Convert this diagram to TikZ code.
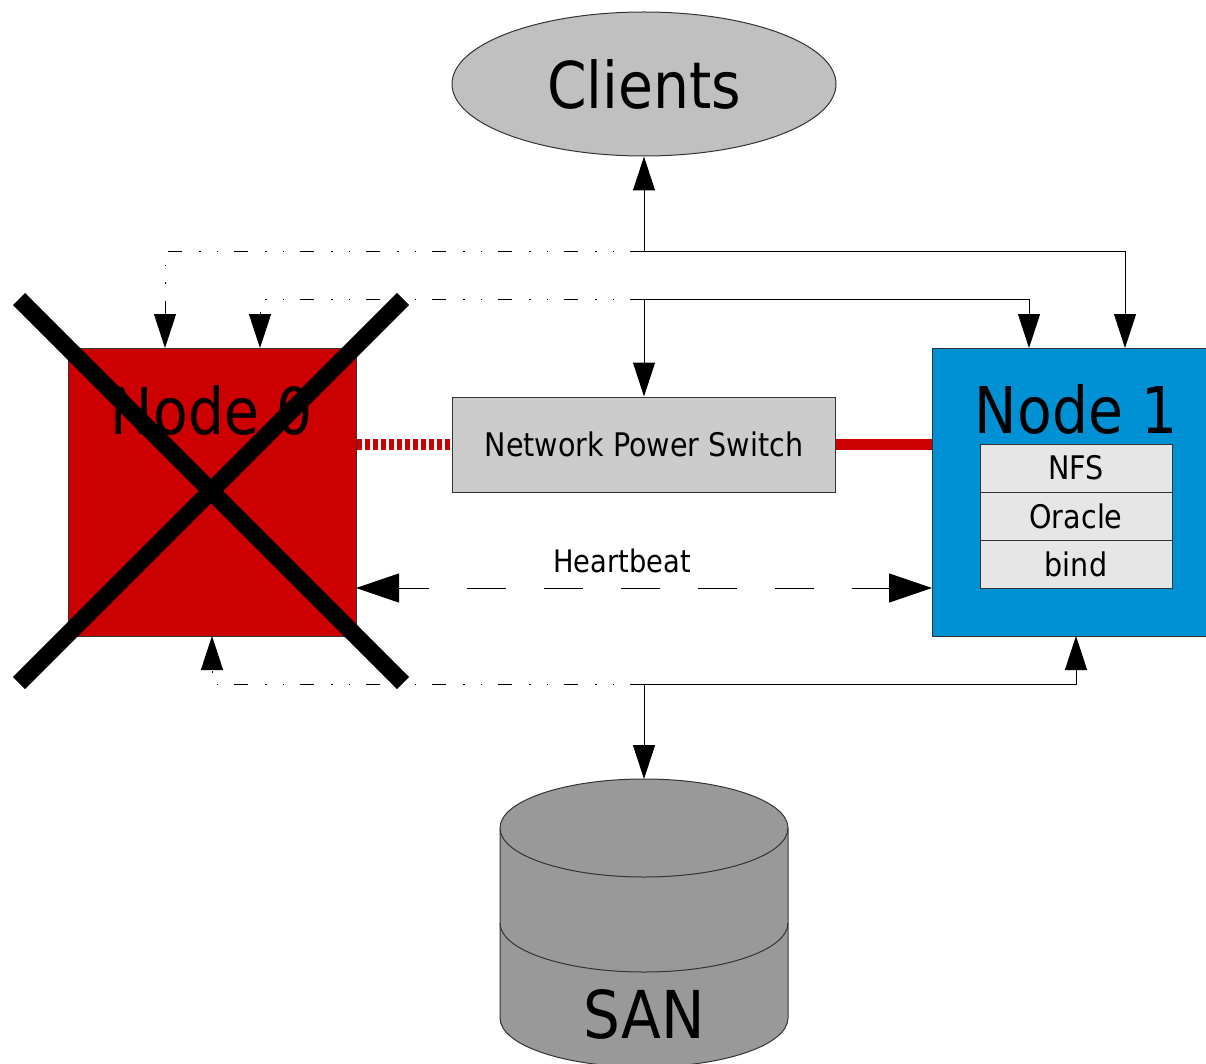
\documentclass[tikz,border=0pt]{standalone}
\usepackage{fontspec}
\setmainfont{DejaVu Sans}[FakeStretch=0.88]
\usetikzlibrary{arrows.meta,shapes.geometric}

\definecolor{clientgray}{HTML}{C0C0C0}
\definecolor{switchgray}{HTML}{CCCCCC}
\definecolor{deadred}{HTML}{CC0000}
\definecolor{liveblue}{HTML}{0091D5}
\definecolor{cellgray}{HTML}{E6E6E6}
\definecolor{sangray}{HTML}{999999}
\definecolor{edgegray}{HTML}{333333}

\begin{document}
\begin{tikzpicture}[x=1pt,y=-1pt,
  outline/.style={draw=edgegray, line width=1pt},
  box/.style={outline, rectangle, inner sep=0pt},
  bigtext/.style={font=\fontsize{64.5}{70}\selectfont},
  smalltext/.style={font=\fontsize{32.5}{38}\selectfont},
  tip/.style={-{Triangle[length=34pt,width=22pt]}},
  active/.style={draw=black, line width=1pt, tip},
  standby/.style={draw=black, line width=1pt, tip,
    dash pattern=on 14pt off 16pt on 1.5pt off 16pt on 1.5pt off 17pt},
  heartbeat/.style={draw=black, line width=1pt,
    {Triangle[length=43pt,width=29pt]}-{Triangle[length=43pt,width=29pt]},
    dash pattern=on 38.5pt off 38.5pt, dash phase=8.5pt},
  fencecut/.style={draw=deadred, line width=11pt, dash pattern=on 5pt off 3pt},
  fenceon/.style={draw=deadred, line width=11pt},
  cross/.style={draw=black, line width=17pt},
  cell/.style={box, fill=cellgray, minimum width=192pt, minimum height=48pt, smalltext}
]
\clip (0,0) rectangle (1206,1064);

% clients
\node[ellipse, outline, fill=clientgray, minimum width=384pt, minimum height=144pt,
      inner sep=0pt, bigtext] (clients) at (644,84) {Clients};

% cluster nodes
\node[box, fill=deadred, minimum width=288pt, minimum height=288pt] (n0) at (212,492) {};
\node[bigtext, anchor=base] (n0label) at (212,434) {Node 0};

\node[box, fill=liveblue, minimum width=288pt, minimum height=288pt] (n1) at (1076,492) {};
\node[bigtext, anchor=base] (n1label) at (1076,433) {Node 1};
\node[cell] (nfs) at (1076,468) {NFS};
\node[cell] (oracle) at (1076,516) {Oracle};
\node[cell] (bind) at (1076,564) {bind};

% fencing device
\node[box, fill=switchgray, minimum width=383pt, minimum height=95pt, smalltext]
  (nps) at (644,444.5) {Network Power Switch};

% shared storage
\fill[sangray] (500,828) rectangle (788,1018);
\fill[sangray] (644,1018) ellipse [x radius=144, y radius=49];
\draw[outline] (500,828) -- (500,1018) arc[start angle=180, end angle=0, x radius=144, y radius=49] -- (788,828);
\draw[outline] (500,923) arc[start angle=180, end angle=0, x radius=144, y radius=49];
\draw[outline, fill=sangray] (644,828) ellipse [x radius=144, y radius=49];
\coordinate (santop) at (644,779);
\node[font=\fontsize{66}{72}\selectfont, anchor=base] (sanlabel) at (644,1038) {SAN};

% junctions and attachment points
\coordinate (j1) at (644,252);
\coordinate (j2) at (644,300);
\coordinate (j3) at (644,684);
\coordinate (n0a) at (165,348);
\coordinate (n0b) at (260,348);
\coordinate (n0c) at (212,636);
\coordinate (n1a) at (1125,348);
\coordinate (n1b) at (1029,348);
\coordinate (n1c) at (1076,636);
\coordinate (hbL) at (356,588);
\coordinate (hbR) at (932,588);

% client network
\draw[active] (j1) -- (clients.south);
\draw[active] (j1) -| (n1a);
\draw[standby] (j1) -| (n0a);

% management network
\draw[active] (j2) -- (nps.north);
\draw[active] (j2) -| (n1b);
\draw[standby] (j2) -| (n0b);

% storage network
\draw[active] (j3) -- (santop);
\draw[active] (j3) -| (n1c);
\draw[standby] (j3) -| (n0c);

% heartbeat
\draw[heartbeat] (hbL) -- (hbR);
\node[font=\fontsize{31}{36}\selectfont, anchor=base] (hblabel) at (622,572) {Heartbeat};

% power feeds
\draw[fencecut] (nps.west -| n0.east) -- (nps.west);
\draw[fenceon] (nps.east) -- (nps.east -| n1.west);

% failed node marker
\draw[cross] (19,299) -- (403,683);
\draw[cross] (403,299) -- (19,683);
\end{tikzpicture}
\end{document}
